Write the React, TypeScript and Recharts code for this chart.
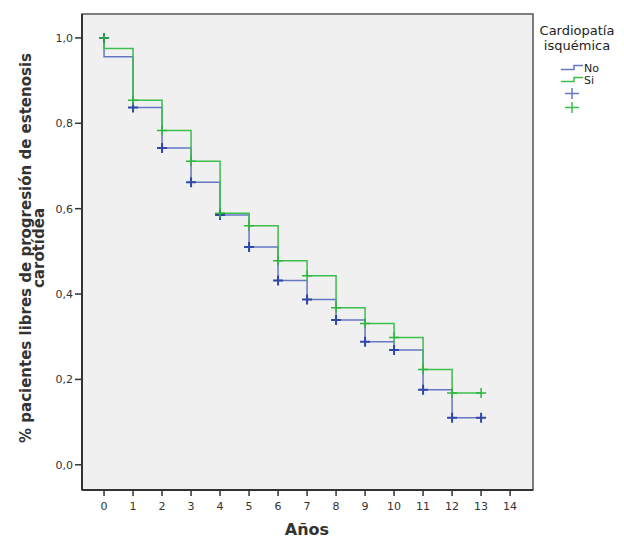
import {
  ComposedChart,
  Line,
  Scatter,
  XAxis,
  YAxis,
  ReferenceArea
} from "recharts";

// Kaplan-Meier survival estimates by year (Cardiopatía isquémica)
const years = [0, 1, 2, 3, 4, 5, 6, 7, 8, 9, 10, 11, 12, 13];
const noSurvival = [0.956, 0.837, 0.742, 0.662, 0.585, 0.51, 0.432, 0.387, 0.339, 0.288, 0.269, 0.176, 0.11, 0.11];
const siSurvival = [0.975, 0.854, 0.783, 0.711, 0.589, 0.56, 0.478, 0.443, 0.368, 0.331, 0.298, 0.223, 0.168, 0.168];

const xTicks = [0, 1, 2, 3, 4, 5, 6, 7, 8, 9, 10, 11, 12, 13, 14];
const yTicks = [0, 0.2, 0.4, 0.6, 0.8, 1.0];

const X_DOMAIN: [number, number] = [-0.76, 14.79];
const Y_DOMAIN: [number, number] = [-0.059, 1.056];

const BLUE_LINE = "#6678c4";
const BLUE_MARK = "#2f47a6";
const GREEN_LINE = "#3cbe4b";
const GREEN_MARK = "#2db53c";
const FONT = "DejaVu Sans, sans-serif";

// step curve: starts at 1 at t=0 then follows the estimates
const stepData = (vals: number[]) =>
  [{ t: 0, s: 1 }].concat(years.map((t, i) => ({ t, s: vals[i] })));

// censored marks: at t=0 (value 1) and at every later year
const censorData = (vals: number[]) =>
  years.map((t, i) => ({ t, s: i === 0 ? 1 : vals[i] }));

const fmt = (v: number) => v.toFixed(1).replace(".", ",");

const plus = (color: string, w: number) => (props: any) => {
  const { cx, cy } = props;
  return (
    <path
      d={`M${cx - 5},${cy}h10M${cx},${cy - 5}v10`}
      stroke={color}
      strokeWidth={w}
      fill="none"
    />
  );
};

function LegendBox() {
  return (
    <g fontFamily={FONT} fill="#222">
      <text x={577} y={35} textAnchor="middle" fontSize={13}>Cardiopatía</text>
      <text x={577} y={50} textAnchor="middle" fontSize={13}>isquémica</text>
      <path d="M561,69.5h13v-4h9" stroke={BLUE_LINE} strokeWidth={1.5} fill="none" />
      <text x={584} y={72} fontSize={11}>No</text>
      <path d="M561,81.5h13v-4h9" stroke={GREEN_LINE} strokeWidth={1.5} fill="none" />
      <text x={584} y={84} fontSize={11}>Si</text>
      <path d="M565,93.5h14M572,88v11" stroke={BLUE_LINE} strokeWidth={1.5} fill="none" />
      <path d="M565,107.5h14M572,102v11" stroke={GREEN_LINE} strokeWidth={1.5} fill="none" />
    </g>
  );
}

export default function App() {
  return (
    <div style={{ position: "absolute", left: 0, top: 0, background: "#fff" }}>
      <ComposedChart
        width={624}
        height={538}
        margin={{ top: 14, right: 91, bottom: 0, left: 0 }}
      >
        <ReferenceArea
          x1={X_DOMAIN[0]}
          x2={X_DOMAIN[1]}
          y1={Y_DOMAIN[0]}
          y2={Y_DOMAIN[1]}
          fill="#f0f0f0"
          fillOpacity={1}
          stroke="#555"
          strokeWidth={1.5}
          ifOverflow="extendDomain"
        />
        <XAxis
          dataKey="t"
          type="number"
          domain={X_DOMAIN}
          ticks={xTicks}
          allowDataOverflow
          height={48}
          tickSize={6}
          tickMargin={6}
          axisLine={{ stroke: "#333", strokeWidth: 2 }}
          tickLine={{ stroke: "#333", strokeWidth: 1.5 }}
          tick={{ fontSize: 11, fill: "#333", fontFamily: FONT }}
        />
        <YAxis
          dataKey="s"
          type="number"
          domain={Y_DOMAIN}
          ticks={yTicks}
          allowDataOverflow
          width={82}
          tickSize={7}
          tickMargin={2}
          tickFormatter={fmt}
          axisLine={{ stroke: "#333", strokeWidth: 2 }}
          tickLine={{ stroke: "#333", strokeWidth: 1.5 }}
          tick={{ fontSize: 11, fill: "#333", fontFamily: FONT }}
        />
        <Line
          data={stepData(noSurvival)}
          dataKey="s"
          type="stepAfter"
          stroke={BLUE_LINE}
          strokeWidth={1.5}
          dot={false}
          activeDot={false}
          isAnimationActive={false}
        />
        <Line
          data={stepData(siSurvival)}
          dataKey="s"
          type="stepAfter"
          stroke={GREEN_LINE}
          strokeWidth={1.5}
          dot={false}
          activeDot={false}
          isAnimationActive={false}
        />
        <Scatter
          data={censorData(noSurvival)}
          dataKey="s"
          shape={plus(BLUE_MARK, 2)}
          isAnimationActive={false}
        />
        <Scatter
          data={censorData(siSurvival)}
          dataKey="s"
          shape={plus(GREEN_MARK, 1.5)}
          isAnimationActive={false}
        />
        <text
          x={307}
          y={535}
          textAnchor="middle"
          fontFamily={FONT}
          fontSize={16}
          fontWeight="bold"
          fill="#333"
        >
          Años
        </text>
        <text
          transform="translate(31,248) rotate(-90)"
          textAnchor="middle"
          fontFamily={FONT}
          fontSize={15}
          fontWeight="bold"
          fill="#333"
        >
          % pacientes libres de progresión de estenosis
        </text>
        <text
          transform="translate(44,248) rotate(-90)"
          textAnchor="middle"
          fontFamily={FONT}
          fontSize={15}
          fontWeight="bold"
          fill="#333"
        >
          carotídea
        </text>
        <LegendBox />
      </ComposedChart>
    </div>
  );
}
